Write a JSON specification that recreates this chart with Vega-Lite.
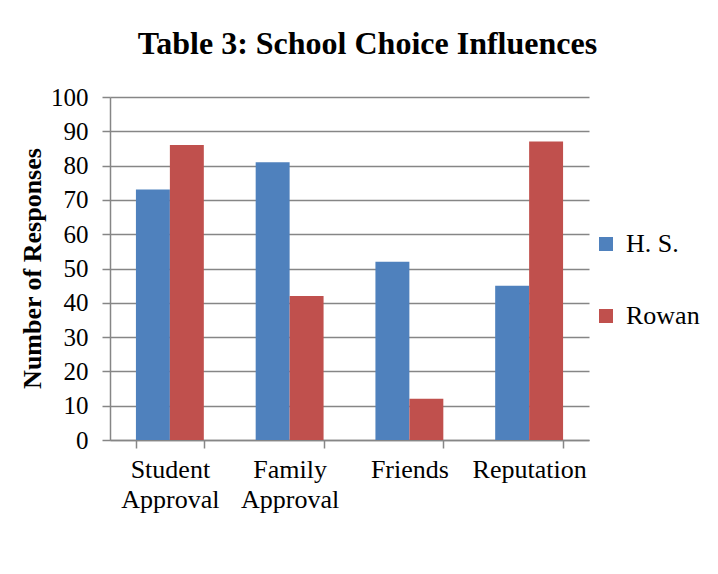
{
  "$schema": "https://vega.github.io/schema/vega-lite/v6.json",
  "autosize": {"type": "none"},
  "width": 479,
  "height": 343,
  "padding": {"left": 110, "top": 97, "right": 129, "bottom": 134},
  "background": "white",
  "title": {
    "text": "Table 3: School Choice Influences",
    "font": "Liberation Serif",
    "fontSize": 32,
    "fontWeight": "bold",
    "color": "black",
    "anchor": "middle",
    "baseline": "alphabetic",
    "offset": -1,
    "dx": 18
  },
  "data": {
    "values": [
      {"category": "Student Approval", "series": "H. S.", "value": 73},
      {"category": "Student Approval", "series": "Rowan", "value": 86},
      {"category": "Family Approval", "series": "H. S.", "value": 81},
      {"category": "Family Approval", "series": "Rowan", "value": 42},
      {"category": "Friends", "series": "H. S.", "value": 52},
      {"category": "Friends", "series": "Rowan", "value": 12},
      {"category": "Reputation", "series": "H. S.", "value": 45},
      {"category": "Reputation", "series": "Rowan", "value": 87}
    ]
  },
  "mark": {"type": "bar"},
  "encoding": {
    "x": {
      "field": "category",
      "type": "nominal",
      "sort": null,
      "scale": {"paddingInner": 0.433, "paddingOuter": 0.2165},
      "axis": {
        "title": null,
        "labelAngle": 0,
        "labelExpr": "split(datum.label, ' ')",
        "labelFont": "Liberation Serif",
        "labelFontSize": 26,
        "labelColor": "black",
        "labelLineHeight": 30,
        "labelPadding": 8,
        "tickBand": "extent",
        "tickSize": 8,
        "tickColor": "#868686",
        "tickWidth": 1.5,
        "domainColor": "#868686",
        "domainWidth": 1.5,
        "grid": false
      }
    },
    "xOffset": {"field": "series", "type": "nominal", "scale": {"paddingInner": 0, "paddingOuter": 0}},
    "y": {
      "field": "value",
      "type": "quantitative",
      "scale": {"domain": [0, 100], "nice": false},
      "axis": {
        "title": "Number of Responses",
        "titleFont": "Liberation Serif",
        "titleFontSize": 26,
        "titleFontWeight": "bold",
        "titleColor": "black",
        "titleX": -78,
        "titleY": 171,
        "titleBaseline": "middle",
        "titleAlign": "center",
        "values": [0, 10, 20, 30, 40, 50, 60, 70, 80, 90, 100],
        "labelFont": "Liberation Serif",
        "labelFontSize": 25,
        "labelColor": "black",
        "labelPadding": 14,
        "tickSize": 8,
        "tickColor": "#868686",
        "tickWidth": 1.5,
        "domainColor": "#868686",
        "domainWidth": 1.5,
        "grid": true,
        "gridColor": "#868686",
        "gridWidth": 1.5
      }
    },
    "color": {
      "field": "series",
      "type": "nominal",
      "scale": {"domain": ["H. S.", "Rowan"], "range": ["#4F81BD", "#C0504D"]},
      "legend": {
        "title": null,
        "orient": "none",
        "legendX": 483,
        "legendY": 134,
        "symbolType": "square",
        "symbolSize": 196,
        "symbolStrokeWidth": 0,
        "labelFont": "Liberation Serif",
        "labelFontSize": 26,
        "labelColor": "black",
        "labelOffset": 7,
        "rowPadding": 46
      }
    }
  },
  "config": {
    "view": {"stroke": null}
  }
}
